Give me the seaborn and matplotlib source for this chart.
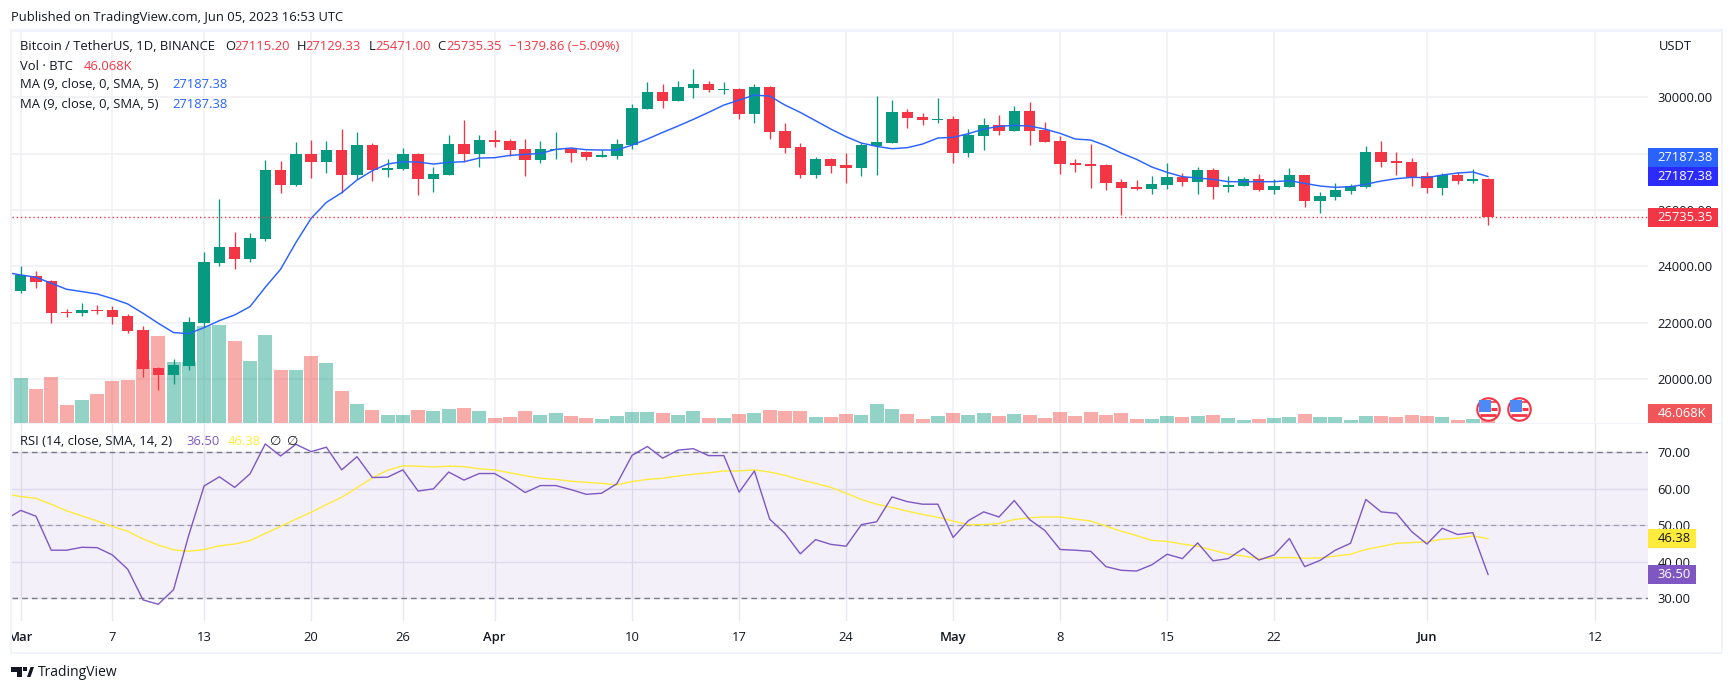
import numpy as np
import pandas as pd
import matplotlib
matplotlib.use('Agg')
import matplotlib.pyplot as plt
from matplotlib.patches import Rectangle, Polygon
import seaborn as sns

# ---------- datos (BTC/USDT 1D, 1 mar - 5 jun 2023) ----------
opens = [23136, 23657, 23478, 22380, 22343, 22449, 22449, 22236, 21740, 20391,
         20142, 20462, 21988, 24118, 24686, 24260, 24970, 27419, 26887, 27987,
         27703, 28129, 27241, 28306, 27419, 27454, 27987, 27100, 27241, 28342,
         27987, 28484, 28448, 28164, 27774, 28129, 28164, 28058, 27880, 27916,
         28307, 29585, 30188, 29869, 30330, 30472, 30259, 30295, 29408, 30366,
         28804, 28236, 27243, 27811, 27598, 27491, 28272, 28378, 29479, 29301,
         29195, 29230, 28023, 28627, 29017, 28804, 29514, 28840, 28449, 27669,
         27633, 27598, 26994, 26817, 26746, 26888, 27172, 26994, 27420, 26816,
         26852, 27100, 26710, 26816, 27242, 26320, 26461, 26674, 26816, 28059,
         27739, 27704, 27207, 26781, 27242, 27029, 27115.20]
highs = [24012, 23834, 23515, 22473, 22698, 22627, 22591, 22295, 21881, 20415,
         20710, 22201, 24509, 26390, 25218, 25183, 27774, 27738, 28413, 28484,
         28448, 28874, 28767, 28365, 27809, 28200, 28022, 27525, 28661, 29193,
         28661, 28838, 28519, 28519, 28448, 28767, 28235, 28093, 28129, 28519,
         29763, 30543, 30472, 30579, 31005, 30579, 30543, 30330, 30472, 30401,
         29088, 28378, 27882, 27830, 28023, 28378, 30046, 29904, 29585, 29443,
         29975, 29337, 28875, 29266, 29372, 29692, 29834, 29124, 28627, 27811,
         28343, 27633, 27101, 27065, 27207, 27669, 27314, 27527, 27491, 27207,
         27171, 27278, 27100, 27491, 27260, 26639, 26958, 26923, 28271, 28449,
         28059, 27846, 27349, 27313, 27349, 27455, 27129.33]
lows = [23065, 23231, 22000, 22213, 22248, 22319, 21964, 21645, 20083, 19610,
        19823, 20320, 21858, 24012, 23905, 24154, 24899, 26603, 26851, 27135,
        27312, 26603, 27100, 27028, 27170, 27419, 26532, 26638, 27241, 27703,
        27525, 28235, 27916, 27206, 27667, 27809, 27703, 27774, 27880, 27809,
        28166, 29585, 29621, 29869, 29975, 30188, 30117, 29230, 29088, 28520,
        28023, 27136, 27136, 27314, 26959, 27207, 27243, 28378, 28911, 29017,
        29088, 27669, 27882, 28130, 28662, 28804, 28307, 28414, 27278, 27349,
        26781, 26710, 25823, 26710, 26568, 26746, 26852, 26568, 26391, 26639,
        26852, 26674, 26568, 26816, 26107, 25894, 26355, 26568, 26781, 27526,
        27242, 26852, 26603, 26532, 26923, 26958, 25471.00]
closes = [23681, 23444, 22355, 22340, 22449, 22425, 22213, 21716, 20367, 20142,
          20497, 22023, 24154, 24686, 24260, 25006, 27419, 26887, 27987, 27703,
          28129, 27241, 28306, 27419, 27490, 27987, 27100, 27277, 28342, 27987,
          28484, 28413, 28129, 27774, 28164, 28164, 28022, 27880, 27951, 28342,
          29621, 30188, 29869, 30366, 30472, 30259, 30295, 29408, 30366, 28769,
          28201, 27243, 27811, 27562, 27491, 28307, 28414, 29479, 29266, 29195,
          29230, 28023, 28662, 29017, 28804, 29514, 28804, 28414, 27633, 27598,
          27562, 26959, 26781, 26746, 26923, 27172, 26994, 27420, 26816, 26887,
          27100, 26710, 26852, 27242, 26320, 26497, 26710, 26852, 28059, 27704,
          27668, 27171, 26781, 27242, 27029, 27115, 25735.35]

# volumen en miles de BTC
volume = [481, 365, 492, 195, 248, 312, 450, 460, 673, 927,
          651, 651, 1034, 1044, 874, 662, 938, 566, 566, 715,
          641, 343, 205, 142, 89, 89, 142, 131, 152, 163,
          131, 57, 67, 131, 89, 110, 78, 57, 46, 78,
          120, 120, 110, 89, 131, 57, 57, 99, 110, 142,
          131, 131, 67, 67, 99, 89, 205, 152, 99, 46,
          78, 110, 89, 110, 78, 99, 89, 57, 120, 78,
          120, 89, 110, 46, 46, 78, 67, 78, 89, 57,
          35, 46, 57, 67, 99, 67, 67, 35, 78, 78,
          67, 89, 78, 67, 35, 46, 46.068]

# estos arrancan el 28 feb (dia -1), la linea entra cortada por la izquierda
ma_values = [23787, 23692, 23610, 23397, 23184, 23101, 23017, 22852, 22662, 22331, 21976,
             21645, 21609, 21822, 22071, 22272, 22568, 23254, 23894, 24840, 25704,
             26271, 26614, 27064, 27395, 27632, 27715, 27703, 27632, 27691, 27715,
             27845, 27857, 27939, 27975, 28010, 28152, 28200, 28141, 28130, 28130,
             28307, 28520, 28757, 28982, 29218, 29467, 29727, 29904, 30082, 30046,
             29727, 29467, 29171, 28875, 28603, 28378, 28260, 28177, 28213, 28343,
             28556, 28580, 28710, 28875, 28970, 29005, 28982, 28875, 28722, 28520,
             28485, 28284, 28023, 27799, 27527, 27337, 27183, 27136, 27088, 27006,
             27006, 27006, 27006, 27041, 26946, 26852, 26805, 26828, 26911, 27029,
             27112, 27159, 27148, 27242, 27313, 27349, 27187.38]
rsi_values = [51.6, 54.1, 52.5, 43.2, 43.2, 44.0, 43.9, 41.9, 38.0, 29.6, 28.4,
              32.4, 47.4, 60.8, 63.3, 60.4, 64.1, 72.3, 69.0, 72.2, 70.2,
              71.4, 65.2, 68.8, 63.1, 63.2, 65.2, 59.4, 60.0, 64.6, 62.4,
              64.2, 64.2, 61.8, 59.0, 60.9, 60.9, 59.8, 58.5, 58.8, 61.4,
              69.2, 71.6, 68.4, 70.6, 71.0, 69.1, 69.1, 59.1, 64.9, 51.7,
              47.8, 42.2, 46.1, 44.8, 44.3, 50.2, 51.0, 57.8, 56.5, 55.8,
              55.8, 46.7, 51.3, 53.7, 52.3, 56.8, 51.6, 48.6, 43.4, 43.2,
              42.9, 38.7, 37.7, 37.5, 39.2, 42.1, 40.9, 45.2, 40.3, 40.9,
              43.7, 40.5, 41.9, 46.4, 38.7, 40.4, 43.2, 45.1, 57.1, 53.7,
              53.3, 48.3, 44.9, 49.2, 47.5, 48.0, 36.50]
rsi_ma_values = [58.6, 57.9, 57.4, 55.8, 54.0, 52.6, 51.2, 49.7, 48.4, 46.3, 44.6,
                 43.3, 42.9, 43.4, 44.4, 44.9, 45.8, 47.8, 49.7, 51.7, 53.6,
                 55.7, 57.7, 60.3, 63.0, 65.1, 66.3, 66.2, 66.0, 66.2, 66.1,
                 65.5, 65.2, 64.4, 63.6, 62.9, 62.6, 62.1, 61.8, 61.5, 61.1,
                 62.0, 62.6, 62.9, 63.5, 64.0, 64.4, 64.9, 64.9, 65.2, 64.6,
                 63.7, 62.5, 61.5, 60.4, 58.8, 57.1, 55.8, 54.9, 53.9, 53.0,
                 52.2, 51.2, 50.2, 50.2, 50.5, 51.6, 52.1, 52.3, 52.3, 51.7,
                 51.2, 49.8, 48.4, 47.2, 45.9, 45.6, 44.9, 44.3, 43.2, 42.1,
                 41.6, 40.9, 41.1, 41.2, 41.0, 41.1, 41.6, 42.1, 43.4, 44.2,
                 45.1, 45.3, 45.5, 46.2, 46.5, 47.1, 46.38]

date_ticks = [0, 6, 12, 19, 25, 31, 40, 47, 54, 61, 68, 75, 82, 92, 103]
date_labels = ['Mar', '7', '13', '20', '26', 'Apr', '10', '17', '24', 'May', '8', '15', '22', 'Jun', '12']
month_labels = ['Mar', 'Apr', 'May', 'Jun']
price_ticks = [20000, 22000, 24000, 26000, 28000, 30000]
rsi_ticks = [30, 40, 50, 60, 70]

GREEN = '#089981'
RED = '#F23645'
BLUE = '#2962FF'
PURPLE = '#7E57C2'
YELLOW = '#FFEB3B'
TEXT = '#131722'
GRID = '#F0F0F3'

W, H = 1733, 692
sns.set_theme(style='white')
plt.rcParams['font.family'] = ['Open Sans', 'DejaVu Sans']
FS = 9.35

fig = plt.figure(figsize=(W / 100, H / 100), dpi=100, facecolor='white')


def box(x0, y0, x1, y1):
    return [x0 / W, 1 - y1 / H, (x1 - x0) / W, (y1 - y0) / H]


def label(x, y, s, color=TEXT, size=FS, **kw):
    fig.text(x / W, 1 - y / H, s, color=color, fontsize=size, va='center', zorder=11, **kw)


def tag(x0, y0, x1, y1, color, s, txt='white'):
    fig.add_artist(Rectangle((x0 / W, 1 - y1 / H), (x1 - x0) / W, (y1 - y0) / H, color=color, lw=0,
                             transform=fig.transFigure, zorder=10))
    label(1657.5, (y0 + y1) / 2, s, color=txt)


PX_LEFT, PX_RIGHT = 12, 1648
xlim = (-0.57, 106.46)
main_box = box(PX_LEFT, 31, PX_RIGHT, 423.3)
rsi_box = box(PX_LEFT, 423.3, PX_RIGHT, 620.7)
time_box = box(PX_LEFT, 620.7, PX_RIGHT, 652)

days = np.arange(len(closes))
line_days = np.arange(-1, len(closes))
df = pd.DataFrame({'day': days, 'open': opens, 'high': highs, 'low': lows, 'close': closes, 'vol': volume})
df['dir'] = np.where(df['close'] >= df['open'], 'up', 'down')
colors = df['dir'].map({'up': GREEN, 'down': RED})

# panel de precio: tres capas para que el volumen tape la rejilla y las velas tapen el volumen
ax_grid = fig.add_axes(main_box, zorder=1)
ax_vol = fig.add_axes(main_box, zorder=2, facecolor='none')
ax = fig.add_axes(main_box, zorder=3, facecolor='none')

ax_grid.set_xlim(xlim)
ax_grid.set_ylim(18423, 32358)
ax_grid.set_yticks(price_ticks, [f'{p:.2f}' for p in price_ticks])
ax_grid.yaxis.tick_right()
ax_grid.tick_params(axis='y', length=0, pad=6.7, labelsize=FS, labelcolor=TEXT)
ax_grid.set_xticks(date_ticks)
ax_grid.tick_params(axis='x', length=0, labelbottom=False)
ax_grid.grid(True, color=GRID, lw=1.1)
sns.despine(ax=ax_grid, left=True, bottom=True, right=True, top=True)

sns.barplot(data=df, x='day', y='vol', hue='dir', palette={'up': GREEN, 'down': '#EE423E'},
            native_scale=True, dodge=False, width=0.92, errorbar=None, alpha=0.44,
            saturation=1, linewidth=0, legend=False, ax=ax_vol)
ax_vol.set_xlim(xlim)
ax_vol.set_ylim(0, 4166)
ax_vol.axis('off')

ax.vlines(df['day'], df['low'], df['high'], color=colors, lw=0.95, zorder=2)
body_bottom = df[['open', 'close']].min(axis=1)
body_height = (df['close'] - df['open']).abs().clip(lower=25)
ax.bar(df['day'], body_height, bottom=body_bottom, width=0.74, color=colors, lw=0, zorder=3)
sns.lineplot(x=line_days, y=ma_values, color=BLUE, lw=1.05, ax=ax, zorder=4)
ax.axhline(closes[-1], color=RED, lw=1.0, ls=(0, (1, 2)), zorder=5)
ax.set_xlim(xlim)
ax.set_ylim(18423, 32358)
ax.axis('off')

# iconos de eventos (bandera USA) sobre el volumen
event_days = np.array([96, 98])
event_y = np.array([18940, 18940])
ax.scatter(event_days, event_y, s=262, facecolor='white', edgecolor=RED, lw=1.5, zorder=6)
ax.scatter(event_days + 0.39, event_y + 237, s=19, marker='_', color=RED, lw=1.2, zorder=7)
ax.scatter(event_days + 0.39, event_y, s=19, marker='_', color=RED, lw=2.2, zorder=7)
ax.scatter(event_days, event_y - 225, s=132, marker='_', color=RED, lw=2.0, zorder=7)
ax.scatter(event_days - 0.18, event_y + 107, s=64, marker='s', color='#4C8BF5', lw=0, zorder=8)

# panel RSI
ax_rsi = fig.add_axes(rsi_box, zorder=1)
ax_rsi.axhspan(30, 70, color=PURPLE, alpha=0.085, lw=0)
ax_rsi.set_xlim(xlim)
ax_rsi.set_ylim(23.9, 77.95)
ax_rsi.set_yticks(rsi_ticks, [f'{r:.2f}' for r in rsi_ticks])
ax_rsi.yaxis.tick_right()
ax_rsi.tick_params(axis='y', length=0, pad=6.7, labelsize=FS, labelcolor=TEXT)
ax_rsi.set_xticks(date_ticks)
ax_rsi.tick_params(axis='x', length=0, labelbottom=False)
ax_rsi.grid(True, color='#E9E7F0', lw=1.0)
ax_rsi.set_axisbelow(True)
ax_rsi.axhline(70, color='#787B86', lw=1.0, ls=(0, (4, 3)))
ax_rsi.axhline(50, color='#9C9EA8', lw=0.9, ls=(0, (4, 3)))
ax_rsi.axhline(30, color='#787B86', lw=1.0, ls=(0, (4, 3)))
sns.lineplot(x=line_days, y=rsi_ma_values, color=YELLOW, lw=1.0, ax=ax_rsi, zorder=4)
sns.lineplot(x=line_days, y=rsi_values, color=PURPLE, lw=1.0, ax=ax_rsi, zorder=5)
ax_rsi.set_xlim(xlim)
ax_rsi.set_ylim(23.9, 77.95)
ax_rsi.set_xlabel('')
ax_rsi.set_ylabel('')
sns.despine(ax=ax_rsi, left=True, bottom=True, right=True, top=True)

# eje de tiempo, el "Mar" queda cortado por el borde como en el original
ax_time = fig.add_axes(time_box, zorder=1, facecolor='none')
ax_time.set_xlim(xlim)
ax_time.set_ylim(0, 1)
ax_time.axis('off')
for d, s in zip(date_ticks, date_labels):
    ax_time.text(d, 0.47, s, ha='center', va='center', fontsize=FS, color=TEXT, clip_on=True,
                 fontweight='semibold' if s in month_labels else 'normal')

# marco exterior y separador de paneles
for r in [(10, 29.3, 1722.7, 31.5), (10, 29.3, 12, 654), (10, 652, 1722.7, 654), (1720.7, 29.3, 1722.7, 654),
          (12, 422.6, 1721, 424)]:
    fig.add_artist(Rectangle((r[0] / W, 1 - r[3] / H), (r[2] - r[0]) / W, (r[3] - r[1]) / H, color='#F0F3FA',
                             lw=0, transform=fig.transFigure, zorder=9))

# cabeceras
label(11.3, 17, 'Published on TradingView.com, Jun 05, 2023 16:53 UTC')
label(20.3, 47, 'Bitcoin / TetherUS, 1D, BINANCE')
for x, s in [(225, 'O'), (296.7, 'H'), (368.3, 'L'), (437.5, 'C')]:
    label(x, 47, s)
for x, s in [(234.3, '27115.20'), (305.7, '27129.33'), (375.7, '25471.00'), (446, '25735.35'),
             (508.7, '\u22121379.86 (\u22125.09%)')]:
    label(x, 47, s, color=RED)
label(20.3, 66, 'Vol \u00b7 BTC')
label(83.3, 66, '46.068K', color=RED)
label(20.3, 85, 'MA (9, close, 0, SMA, 5)')
label(172, 85, '27187.38', color=BLUE)
label(20.3, 104, 'MA (9, close, 0, SMA, 5)')
label(172, 104, '27187.38', color=BLUE)
label(20.3, 441.7, 'RSI (14, close, SMA, 14, 2)')
label(186.6, 441.7, '36.50', color=PURPLE)
label(228, 441.7, '46.38', color=YELLOW)
label(269.6, 441.7, '\u2205')
label(287, 441.7, '\u2205')
label(1659.3, 46, 'USDT')

# etiquetas del eje derecho
tag(PX_RIGHT, 148, 1718.3, 167, BLUE, '27187.38')
tag(PX_RIGHT, 167, 1718.3, 186, '#2B2BFF', '27187.38')
tag(PX_RIGHT, 208, 1718.3, 227, RED, '25735.35')
tag(PX_RIGHT, 404, 1711.7, 423, '#F0555A', '46.068K')
tag(PX_RIGHT, 529, 1696.3, 547.7, '#FFEB3B', '46.38', txt=TEXT)
tag(PX_RIGHT, 565, 1696.3, 583.7, PURPLE, '36.50')

# logo
label(38, 673, 'TradingView', size=10)
to_fig = lambda p: (p[0] / W, 1 - p[1] / H)
logo_t = [(11, 667), (22.5, 667), (22.5, 677), (17, 677), (17, 671.5), (11, 671.5)]
logo_v = [(27, 677), (30.5, 667), (34, 667), (30.5, 677)]
for pts in (logo_t, logo_v):
    fig.add_artist(Polygon([to_fig(p) for p in pts], closed=True, color=TEXT, lw=0, transform=fig.transFigure))
fig.add_artist(Rectangle(to_fig((23.5, 671)), 3.5 / W, 4 / H, color=TEXT, lw=0, transform=fig.transFigure))

fig.savefig('out.png', dpi=100)
